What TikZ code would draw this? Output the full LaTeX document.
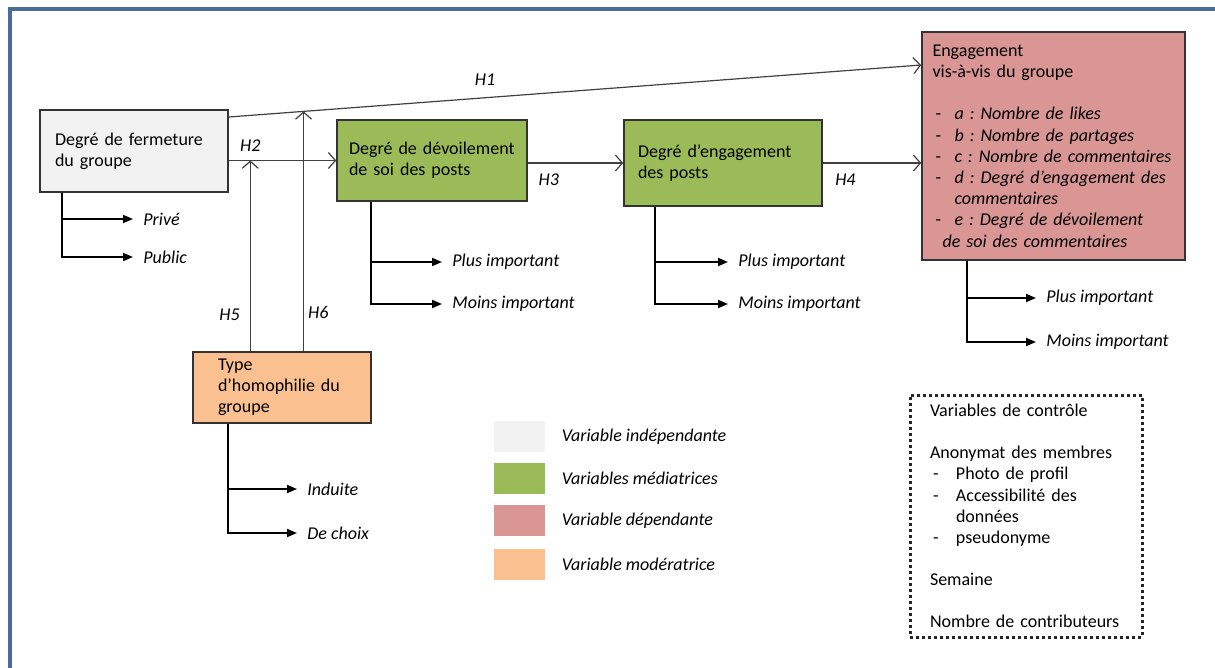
\documentclass[tikz,border=0pt]{standalone}
\usepackage{fontspec}
\setmainfont{Carlito}
\usetikzlibrary{positioning,arrows.meta}
\definecolor{cadre}{HTML}{4A6C9C}
\definecolor{softgray}{HTML}{F2F2F2}
\definecolor{softgreen}{HTML}{9BBB59}
\definecolor{softred}{HTML}{D99694}
\definecolor{softorange}{HTML}{FAC090}
\newcommand{\tiret}[1][11pt]{\makebox[#1][l]{\hspace{1.5pt}-}}

\begin{document}
\frenchspacing\hyphenpenalty=10000
\fontsize{9}{10.6}\selectfont
\begin{tikzpicture}[x=.5pt,y=-.5pt]
\tikzstyle{box}=[draw=black!80,line width=.8pt,inner xsep=0pt,inner ysep=2pt,align=left]
\tikzstyle{controle}=[draw=black!85,line width=1.5pt,dash pattern=on 1.5pt off 1.5pt,inner xsep=0pt,align=left]
\tikzstyle{hyp}=[draw=black!75,line width=.6pt,-{Straight Barb[length=3.5pt,width=8pt]}]
\tikzstyle{branch}=[line width=.9pt,-{Triangle[length=5pt,width=4pt]},shorten >=3pt]
\tikzstyle{opt}=[font=\itshape,anchor=west,inner sep=2pt]
\tikzstyle{hlabel}=[font=\itshape,inner sep=2pt]
\tikzstyle{legbox}=[minimum width=25.5pt,minimum height=15.5pt,inner sep=0pt]

\useasboundingbox (0,0) rectangle (1215,668);
\draw[cadre,line width=2pt] (10,690) -- (10,9) -- (1240,9);

% variables
\node[box,fill=softgray,minimum width=94pt,minimum height=41pt,text width=79pt] (fermeture) at (134,151) {Degré de fermeture\\du groupe};
\node[box,fill=softgreen,minimum width=95pt,minimum height=40.5pt,text width=83pt] (devoilement) at (432,160.5) {Degré de dévoilement\\de soi des posts};
\node[box,fill=softgreen,minimum width=99pt,minimum height=43pt,text width=85pt] (engposts) at (723,163) {Degré d’engagement\\des posts};
\node[box,fill=softred,minimum width=131.5pt,minimum height=114pt,text width=121pt] (engagement) at (1053.5,146) {Engagement\\vis-à-vis du groupe\\[10.5pt]
\tiret\textit{a : Nombre de likes}\\
\tiret\textit{b : Nombre de partages}\\
\tiret\textit{c : Nombre de commentaires}\\
\tiret\textit{d : Degré d’engagement des}\\
\hspace*{11pt}\textit{commentaires}\\
\tiret\textit{e : Degré de dévoilement}\\
\hspace*{5pt}\textit{de soi des commentaires}};
\node[box,fill=softorange,minimum width=89pt,minimum height=35.5pt,text width=64pt] (homophilie) at (282,387.5) {Type\\d’homophilie du\\groupe};

% hypotheses
\coordinate (h1s) at ([yshift=17pt]fermeture.east);
\coordinate (h1e) at ([yshift=40.5pt]engagement.west);
\draw[hyp] (h1s) -- node[hlabel,above=4pt,pos=.37]{H1} coordinate[pos=.108] (h6top) (h1e);
\draw[hyp] (fermeture.east |- devoilement.west) -- node[hlabel,above=2pt,pos=.2]{H2} coordinate[pos=.2] (h5top) (devoilement.west);
\draw[hyp] (h5top |- homophilie.north) -- node[hlabel,left=3pt,pos=.19]{H5} (h5top);
\draw[hyp] (h6top |- homophilie.north) -- node[hlabel,right,pos=.16]{H6} (h6top);
\draw[hyp] (devoilement.east |- engposts.west) -- node[hlabel,below=3pt,pos=.22]{H3} (engposts.west);
\draw[hyp] (engposts.east) -- node[hlabel,below=3pt,pos=.23]{H4} (engposts.east -| engagement.west);

% modalites
\node[opt] (prive) at (139,219) {Privé};
\node[opt] (public) at (139,257) {Public};
\node[opt] (plus1) at (448,262) {Plus important};
\node[opt] (moins1) at (448,304) {Moins important};
\node[opt] (plus2) at (734,262) {Plus important};
\node[opt] (moins2) at (734,304) {Moins important};
\node[opt] (plus3) at (1042,298) {Plus important};
\node[opt] (moins3) at (1042,342) {Moins important};
\node[opt] (induite) at (303,489) {Induite};
\node[opt] (choix) at (303,533) {De choix};

\draw[branch] ([xshift=11.5pt]fermeture.south west) |- (prive);
\draw[branch] ([xshift=11.5pt]fermeture.south west) |- (public);
\draw[branch] ([xshift=17.5pt]devoilement.south west) |- (plus1);
\draw[branch] ([xshift=17.5pt]devoilement.south west) |- (moins1);
\draw[branch] ([xshift=16pt]engposts.south west) |- (plus2);
\draw[branch] ([xshift=16pt]engposts.south west) |- (moins2);
\draw[branch] ([xshift=23pt]engagement.south west) |- (plus3);
\draw[branch] ([xshift=23pt]engagement.south west) |- (moins3);
\draw[branch] ([xshift=18pt]homophilie.south west) |- (induite);
\draw[branch] ([xshift=18pt]homophilie.south west) |- (choix);

% legende
\node[legbox,fill=softgray] (lgind) at (519.5,436.5) {};
\node[legbox,fill=softgreen] (lgmed) at (519.5,478) {};
\node[legbox,fill=softred] (lgdep) at (519.5,520.5) {};
\node[legbox,fill=softorange] (lgmod) at (519.5,564) {};
\node[opt,right=6pt of lgind] {Variable indépendante};
\node[opt,right=6pt of lgmed] {Variables médiatrices};
\node[opt,right=6pt of lgdep] {Variable dépendante};
\node[opt,right=6pt of lgmod] {Variable modératrice};

% controle
\node[controle,minimum width=116pt,minimum height=121pt,text width=96pt] (controle) at (1026,516) {Variables de contrôle\\[10.5pt]
Anonymat des membres\\
\tiret[13pt]Photo de profil\\
\tiret[13pt]Accessibilité des\\
\hspace*{13pt}données\\
\tiret[13pt]pseudonyme\\[10.5pt]
Semaine\\[10.5pt]
Nombre de contributeurs};
\end{tikzpicture}
\end{document}
